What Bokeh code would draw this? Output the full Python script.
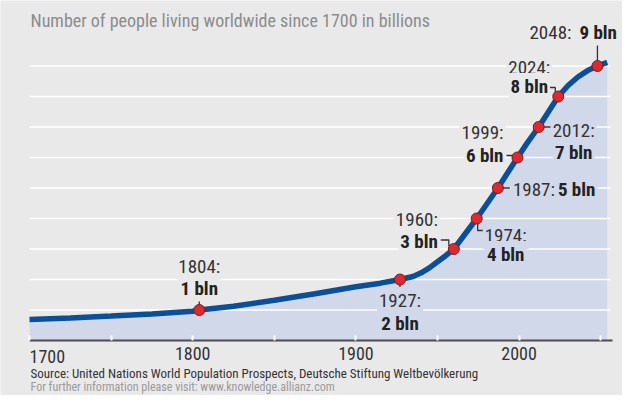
from bokeh.plotting import figure
from bokeh.models import Label, FixedTicker, Range1d, LinearAxis
from bokeh.embed import file_html
from bokeh.resources import INLINE

# ---------------- data ----------------
curve_years = [1700, 1725, 1750, 1775, 1800, 1804, 1825, 1850, 1875, 1900, 1915, 1927,
               1935, 1940, 1945, 1950, 1955, 1960, 1967, 1974, 1980, 1987, 1993, 1999,
               2005, 2012, 2018, 2024, 2030, 2036, 2042, 2048, 2054]
curve_pop = [0.69, 0.74, 0.80, 0.87, 0.96, 1.0, 1.12, 1.32, 1.53, 1.76, 1.88, 2.0,
             2.1, 2.22, 2.38, 2.58, 2.78, 3.0, 3.5, 4.0, 4.46, 5.0, 5.5, 6.0,
             6.48, 7.0, 7.5, 8.0, 8.36, 8.64, 8.85, 9.0, 9.12]

ms_years = [1804, 1927, 1960, 1974, 1987, 1999, 2012, 2024, 2048]
ms_pop = [1, 2, 3, 4, 5, 6, 7, 8, 9]
ms_year_text = ["1804:", "1927:", "1960:", "1974:", "1987:", "1999:", "2012:", "2024:", "2048:"]
ms_bln_text = ["1 bln", "2 bln", "3 bln", "4 bln", "5 bln", "6 bln", "7 bln", "8 bln", "9 bln"]

x_ticks = [1700, 1750, 1800, 1850, 1900, 1950, 2000, 2050]
x_tick_labels = ["1700", "", "1800", "", "1900", "", "2000", ""]
grid_values = [1, 2, 3, 4, 5, 6, 7, 8, 9]

title_text = "Number of people living worldwide since 1700 in billions"
source_text = "Source: United Nations World Population Prospects, Deutsche Stiftung Weltbevölkerung"
info_text = "For further information please visit: www.knowledge.allianz.com"

# ---------------- layout ----------------
W, H = 622, 395
X0, X1 = 1700, 2056          # extent of the plotted area
PX_X0, PX_X1 = 29, 610       # pixel positions of X0 and X1
PX_Y0 = 340                  # pixel row of value 0
ppx = (PX_X1 - PX_X0) / (X1 - X0)
ppy = 30.5

BG = "#e9e9ea"
AREA = "#d1d8ea"
LINE = "#0c4f99"
RED = "#dd2a30"
FONT = "Roboto Condensed"

p = figure(width=W, height=H, output_backend="svg", toolbar_location=None,
           x_range=Range1d(X0 - PX_X0 / ppx, X1 + (W - PX_X1) / ppx),
           y_range=Range1d(-(H - PX_Y0) / ppy, PX_Y0 / ppy),
           x_axis_type=None, y_axis_type=None,
           min_border=0)
p.title.visible = False
p.background_fill_color = BG
p.border_fill_color = BG
p.outline_line_color = None
p.xgrid.visible = False
p.ygrid.visible = False

# x axis drawn at y = 0
xa = LinearAxis(fixed_location=0, bounds=(X0, X1 + 2 / ppx))
xa.ticker = FixedTicker(ticks=x_ticks)
xa.major_label_overrides = {t: ("" if t == 1700 else l) for t, l in zip(x_ticks, x_tick_labels)}
xa.axis_line_color = "#4d4d4d"
xa.axis_line_width = 2
xa.major_tick_in = 5
xa.major_tick_out = 0
xa.major_tick_line_color = "white"
xa.major_tick_line_width = 2
xa.minor_tick_line_color = None
xa.major_label_text_font = FONT
xa.major_label_text_font_size = "18px"
xa.major_label_text_color = "#333333"
xa.major_label_standoff = 6
p.add_layout(xa, "below")

# area, gridlines, curve
p.varea(x=curve_years, y1=[0] * len(curve_years), y2=curve_pop, fill_color=AREA, level="image")
p.segment(x0=[X0] * len(grid_values), x1=[X1] * len(grid_values), y0=grid_values, y1=grid_values,
          line_color="white", line_width=1.6, level="underlay")
p.line(curve_years, curve_pop, line_width=5.5, color=LINE)


def at(i, dx, dy):
    """point i shifted by dx, dy pixels (dy downwards)"""
    return ms_years[i] + dx / ppx, ms_pop[i] - dy / ppy


# connectors (pixel offsets from each milestone point)
conn = {
    0: [(0, -13), (0, 0)],
    1: [(0, 0), (0, 12)],
    2: [(-13, -9), (-5, -9), (-5, -3)],
    3: [(1, 3), (1, 12), (7, 12)],
    4: [(0, 0), (12, 0)],
    5: [(-11, -2), (0, -2)],
    6: [(0, 0), (12, 0)],
    7: [(-10, -9), (-3, -9), (-3, -3)],
    8: [(0, 0), (0, -21)],
}
xs, ys = [], []
for i, pts in conn.items():
    xx, yy = zip(*[at(i, dx, dy) for dx, dy in pts])
    xs.append(list(xx))
    ys.append(list(yy))
p.multi_line(xs, ys, line_color="#333333", line_width=1.3)

p.scatter(ms_years, ms_pop, size=11, fill_color=RED, line_color="#7d1a1a", line_width=1)

# label specs: (index, dx_year, dy_year, align_year, dx_bln, dy_bln, align_bln, bg)
specs = [
    (0, 0, -44, "center", 0, -22, "center", BG),
    (1, 0, 21, "center", 0, 44, "center", AREA),
    (2, -14, -30, "right", -14, -8, "right", BG),
    (3, 29, 17, "center", 29, 36, "center", AREA),
    (4, 13, 1, "left", 58, 1, "left", AREA),
    (5, -12, -25, "right", -12, -2, "right", BG),
    (6, 35, 3, "center", 35, 25, "center", AREA),
    (7, -29, -29, "center", -29, -10, "center", BG),
    (8, -24, -34, "right", -20, -34, "left", BG),
]
for i, dxa, dya, ala, dxb, dyb, alb, bg in specs:
    x, y = at(i, dxa, dya)
    p.add_layout(Label(x=x, y=y, text=ms_year_text[i], text_font=FONT, text_font_size="19px",
                       text_color="#333333", text_align=ala, text_baseline="middle",
                       background_fill_color=bg, padding=2))
    x, y = at(i, dxb, dyb)
    p.add_layout(Label(x=x, y=y, text=ms_bln_text[i], text_font=FONT, text_font_size="19px",
                       text_font_style="bold", text_color="#222222", text_align=alb,
                       text_baseline="middle", background_fill_color=bg, padding=2))

# first x tick label, left aligned as in the original
p.add_layout(Label(x=X0, y=-16 / ppy, text=x_tick_labels[0], text_font=FONT,
                   text_font_size="18px", text_color="#333333", text_align="left",
                   text_baseline="middle"))

# title and footer
p.add_layout(Label(x=X0 + 1 / ppx, y=(PX_Y0 - 20) / ppy, text=title_text, text_font=FONT,
                   text_font_size="18px", text_color="#8c8c8c", text_align="left",
                   text_baseline="middle"))
p.add_layout(Label(x=X0 + 1 / ppx, y=-(373 - PX_Y0) / ppy, text=source_text, text_font=FONT,
                   text_font_size="13px", text_color="#333333", text_align="left",
                   text_baseline="middle"))
p.add_layout(Label(x=X0 + 1 / ppx, y=-(386 - PX_Y0) / ppy, text=info_text, text_font=FONT,
                   text_font_size="12px", text_color="#9a9a9a", text_align="left",
                   text_baseline="middle"))

open("out.html", "w").write(file_html(p, INLINE))
